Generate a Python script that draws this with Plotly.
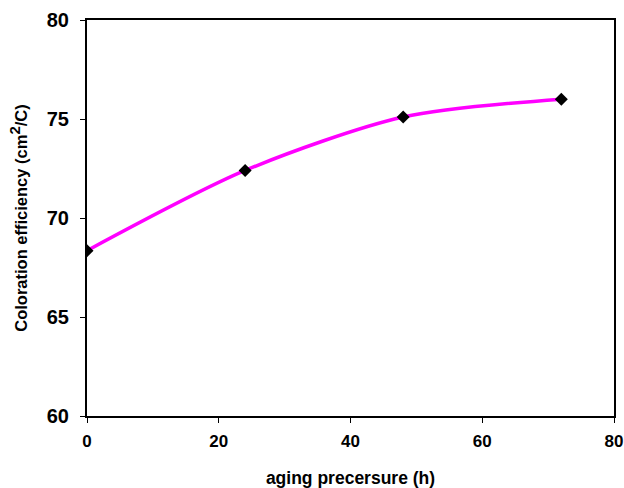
import plotly.graph_objects as go

# aging time (h) and measured coloration efficiency (cm^2/C)
aging_hours = [0, 24, 48, 72]
coloration_eff = [68.35, 72.4, 75.1, 76.0]

x_ticks = [0, 20, 40, 60, 80]
y_ticks = [60, 65, 70, 75, 80]

fig = go.Figure()
fig.add_trace(go.Scatter(
    x=aging_hours, y=coloration_eff,
    mode="lines",
    line=dict(color="#FF00FF", width=3.5, shape="spline", smoothing=0.8),
    hoverinfo="skip", showlegend=False,
))
fig.add_trace(go.Scatter(
    x=aging_hours, y=coloration_eff,
    mode="markers",
    marker=dict(symbol="diamond", size=10, color="black"),
    showlegend=False,
))

axis_common = dict(
    showgrid=False, zeroline=False, automargin=False,
    showline=True, linecolor="black", linewidth=2, mirror=True,
    ticks="outside", ticklen=5, tickwidth=1, tickcolor="black",
)

fig.update_layout(
    width=624, height=488,
    margin=dict(l=87, r=10, t=20, b=72),
    paper_bgcolor="white", plot_bgcolor="white",
    font=dict(family="Arial, Liberation Sans, sans-serif", color="black"),
    xaxis=dict(
        range=[0, 80], tickvals=x_ticks, ticktext=[f"<b>{v}</b>" for v in x_ticks],
        tickfont=dict(size=17), ticklabelstandoff=4,
        title=dict(text="<b>aging precersure (h)</b>", font=dict(size=17.5), standoff=25),
        **axis_common,
    ),
    yaxis=dict(
        range=[60, 80], tickvals=y_ticks, ticktext=[f"<b>{v}</b>" for v in y_ticks],
        tickfont=dict(size=20), ticklabelstandoff=7,
        title=dict(
            text="<b>Coloration efficiency (cm<sup><span style='font-size:15px'>2</span></sup>/C)</b>",
            font=dict(size=16.5), standoff=15,
        ),
        **axis_common,
    ),
)

fig.write_html("out.html")
